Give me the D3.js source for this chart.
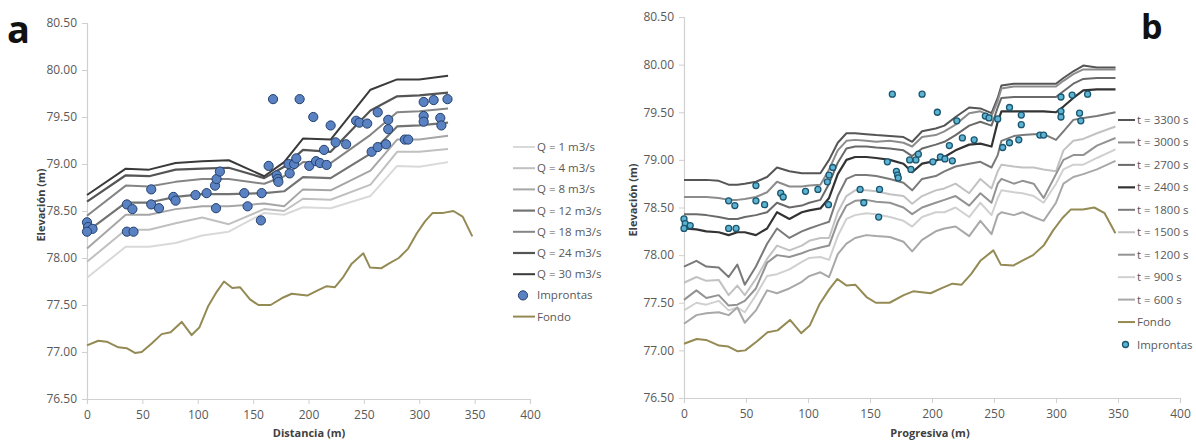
<!DOCTYPE html>
<html>
<head>
<meta charset="utf-8">
<script src="https://cdn.jsdelivr.net/npm/d3@7"></script>
<style>
  body { margin: 0; background: #fff; }
  svg text { font-family: "Open Sans", "DejaVu Sans", sans-serif; }
</style>
</head>
<body>
<svg id="chart" width="1196" height="441"></svg>
<script>
// ---------- shared data ----------
const yTicks = [76.5, 77.0, 77.5, 78.0, 78.5, 79.0, 79.5, 80.0, 80.5];
const xTicks = [0, 50, 100, 150, 200, 250, 300, 350, 400];

// river bed profile
const fondoDist = [0, 10.2, 17.8, 28.3, 35.8, 43.3, 49.4, 58.4, 67.4, 75.5, 85.5, 94.5, 101.4, 109.5, 117.1, 123.7,
  131.2, 138.1, 147.2, 154.7, 165.8, 177.2, 184.8, 198.9, 207.4, 216.4, 223.9, 231.5, 239, 249.5, 255.5, 265.5,
  272.5, 281.5, 290, 297.7, 305.2, 312.1, 321.7, 330.8, 339.2, 347.9];
const fondoElev = [77.07, 77.12, 77.11, 77.05, 77.04, 76.99, 77.00, 77.09, 77.19, 77.21, 77.32, 77.18, 77.26, 77.49, 77.64, 77.75,
  77.68, 77.69, 77.56, 77.50, 77.50, 77.58, 77.62, 77.60, 77.65, 77.70, 77.69, 77.80, 77.94, 78.05, 77.90, 77.89,
  77.94, 78.00, 78.10, 78.26, 78.39, 78.48, 78.48, 78.50, 78.44, 78.23];

// high-water marks surveyed in the field
const impDist = [0, 1, 5, 0, 36, 41, 36, 42, 58, 58, 65, 78, 80, 98, 108, 115.6, 117, 120, 116.5, 142, 145, 157.7, 157,
  164, 168, 171.3, 172.2, 172.8, 182, 183, 187, 189, 192, 200.7, 204.3, 206.8, 210.4, 214, 216.4, 220, 224.5, 234,
  243, 246, 253, 257, 262.5, 262.5, 270, 272, 272, 287, 290, 304, 304, 304, 313, 319, 320, 325.5];
const impElev = [78.38, 78.33, 78.31, 78.28, 78.57, 78.52, 78.28, 78.28, 78.73, 78.57, 78.53, 78.65, 78.61, 78.67, 78.69,
  78.77, 78.84, 78.92, 78.53, 78.69, 78.55, 78.69, 78.40, 78.98, 79.69, 78.88, 78.84, 78.81, 79.00, 78.90, 79.00, 79.06,
  79.69, 78.98, 79.50, 79.03, 79.01, 79.15, 78.99, 79.41, 79.23, 79.21, 79.46, 79.44, 79.43, 79.13, 79.55, 79.18, 79.21,
  79.37, 79.47, 79.26, 79.26, 79.66, 79.51, 79.45, 79.68, 79.49, 79.41, 79.69];

// ---------- panel a: steady profiles for several discharges ----------
const qDist = [0, 35, 56, 80, 104, 128, 160, 178, 195, 220, 256, 280, 300, 326];
const q1  = [77.79, 78.12, 78.12, 78.16, 78.24, 78.28, 78.48, 78.46, 78.54, 78.53, 78.66, 78.98, 78.97, 79.02];
const q4  = [77.96, 78.30, 78.30, 78.37, 78.43, 78.36, 78.52, 78.50, 78.63, 78.62, 78.78, 79.13, 79.13, 79.16];
const q8  = [78.10, 78.46, 78.46, 78.52, 78.55, 78.55, 78.58, 78.55, 78.73, 78.72, 78.93, 79.26, 79.26, 79.30];
const q12 = [78.28, 78.59, 78.59, 78.65, 78.68, 78.68, 78.69, 78.71, 78.86, 78.85, 79.11, 79.40, 79.41, 79.44];
const q18 = [78.45, 78.77, 78.76, 78.81, 78.84, 78.84, 78.79, 78.87, 79.02, 79.01, 79.31, 79.55, 79.56, 79.59];
const q24 = [78.60, 78.88, 78.87, 78.94, 78.95, 78.96, 78.85, 78.97, 79.15, 79.13, 79.57, 79.72, 79.73, 79.76];
const q30 = [78.67, 78.95, 78.94, 79.01, 79.03, 79.04, 78.87, 79.02, 79.27, 79.26, 79.79, 79.90, 79.90, 79.94];
const qLabels = ["Q = 1 m3/s", "Q = 4 m3/s", "Q = 8 m3/s", "Q = 12 m3/s", "Q = 18 m3/s", "Q = 24 m3/s", "Q = 30 m3/s"];

// ---------- panel b: unsteady profiles at several times ----------
const tDist = [0, 10, 18, 28, 36, 43, 49, 58, 67, 75, 85, 95, 101, 110, 117, 124, 131, 138, 147, 155,
  166, 177, 184, 192, 203, 210, 219, 230, 239, 248, 253, 256, 266, 273, 282, 290, 300, 306, 314, 322, 333, 348];
const t3300 = [78.79, 78.79, 78.79, 78.78, 78.74, 78.74, 78.75, 78.77, 78.82, 78.92, 78.88, 78.86, 78.86, 78.86, 79.00, 79.18, 79.28, 79.28, 79.27, 79.26,
  79.25, 79.24, 79.19, 79.30, 79.33, 79.36, 79.45, 79.55, 79.54, 79.49, 79.65, 79.78, 79.80, 79.80, 79.80, 79.80, 79.80, 79.86, 79.93, 79.99, 79.97, 79.97];
const t3000 = [78.61, 78.61, 78.61, 78.60, 78.58, 78.58, 78.59, 78.61, 78.66, 78.77, 78.72, 78.72, 78.73, 78.74, 78.90, 79.10, 79.20, 79.21, 79.20, 79.19,
  79.20, 79.18, 79.14, 79.24, 79.26, 79.30, 79.37, 79.49, 79.51, 79.46, 79.62, 79.75, 79.77, 79.77, 79.77, 79.77, 79.77, 79.83, 79.90, 79.95, 79.95, 79.95];
const t2700 = [78.43, 78.43, 78.42, 78.40, 78.38, 78.38, 78.40, 78.42, 78.45, 78.55, 78.50, 78.52, 78.55, 78.58, 78.75, 78.97, 79.12, 79.14, 79.14, 79.13,
  79.12, 79.10, 79.04, 79.12, 79.16, 79.19, 79.26, 79.36, 79.40, 79.36, 79.55, 79.65, 79.66, 79.66, 79.66, 79.66, 79.66, 79.72, 79.80, 79.85, 79.86, 79.86];
const t2400 = [78.28, 78.27, 78.25, 78.24, 78.21, 78.24, 78.24, 78.21, 78.28, 78.45, 78.38, 78.45, 78.47, 78.49, 78.60, 78.85, 79.00, 79.03, 79.03, 79.02,
  79.00, 78.96, 78.87, 78.96, 78.99, 79.03, 79.10, 79.16, 79.17, 79.14, 79.40, 79.51, 79.51, 79.51, 79.51, 79.51, 79.50, 79.56, 79.65, 79.73, 79.74, 79.74];
const t1800 = [77.88, 77.94, 77.88, 77.87, 77.77, 77.90, 77.69, 77.88, 78.12, 78.28, 78.18, 78.25, 78.28, 78.32, 78.35, 78.62, 78.80, 78.84, 78.84, 78.83,
  78.80, 78.76, 78.68, 78.80, 78.83, 78.88, 78.93, 78.96, 78.98, 78.92, 79.05, 79.20, 79.25, 79.26, 79.27, 79.27, 79.21, 79.30, 79.42, 79.44, 79.46, 79.50];
const t1500 = [77.71, 77.77, 77.73, 77.74, 77.58, 77.68, 77.58, 77.75, 77.96, 78.10, 78.05, 78.10, 78.15, 78.18, 78.18, 78.45, 78.62, 78.68, 78.68, 78.67,
  78.64, 78.62, 78.54, 78.62, 78.68, 78.70, 78.75, 78.65, 78.80, 78.70, 78.88, 78.95, 78.93, 78.92, 78.92, 78.90, 78.88, 79.10, 79.20, 79.22, 79.28, 79.35];
const t1200 = [77.53, 77.63, 77.55, 77.58, 77.47, 77.48, 77.52, 77.65, 77.92, 78.00, 77.98, 78.02, 78.05, 78.08, 78.10, 78.35, 78.52, 78.57, 78.58, 78.56,
  78.55, 78.50, 78.43, 78.50, 78.55, 78.58, 78.62, 78.52, 78.65, 78.55, 78.75, 78.80, 78.75, 78.78, 78.75, 78.60, 78.85, 79.00, 79.05, 79.05, 79.15, 79.23];
const t900 = [77.42, 77.50, 77.48, 77.52, 77.42, 77.45, 77.40, 77.58, 77.78, 77.80, 77.85, 77.93, 77.97, 77.98, 77.95, 78.20, 78.38, 78.42, 78.44, 78.43,
  78.40, 78.36, 78.30, 78.40, 78.45, 78.45, 78.50, 78.40, 78.55, 78.42, 78.60, 78.68, 78.66, 78.65, 78.62, 78.55, 78.75, 78.90, 78.95, 78.95, 79.02, 79.11];
const t600 = [77.28, 77.37, 77.39, 77.40, 77.37, 77.45, 77.29, 77.42, 77.63, 77.60, 77.65, 77.72, 77.78, 77.82, 77.77, 78.01, 78.12, 78.18, 78.21, 78.20,
  78.19, 78.14, 78.04, 78.16, 78.25, 78.28, 78.30, 78.20, 78.36, 78.22, 78.42, 78.45, 78.42, 78.45, 78.40, 78.36, 78.55, 78.75, 78.82, 78.85, 78.90, 78.99];
const tLabels = ["t = 3300 s", "t = 3000 s", "t = 2700 s", "t = 2400 s", "t = 1800 s", "t = 1500 s", "t = 1200 s", "t = 900 s", "t = 600 s"];

// ---------- drawing ----------
const svg = d3.select("#chart");
svg.append("rect").attr("width", 1196).attr("height", 441).attr("fill", "#fff");

const AXIS = "#d0d0d0";
const TICKTXT = "#595959";
const FONDO = "#948a54";

function drawPanel(p) {
  const g = svg.append("g");
  const x = d3.scaleLinear().domain([0, 400]).range(p.xr);
  const y = d3.scaleLinear().domain([76.5, 80.5]).range(p.yr);

  const ya = g.append("g").attr("transform", `translate(${p.xr[0]},0)`)
    .call(d3.axisLeft(y).tickValues(yTicks).tickSize(5).tickPadding(5).tickFormat(d3.format(".2f")));
  const xa = g.append("g").attr("transform", `translate(0,${p.yr[0]})`)
    .call(d3.axisBottom(x).tickValues(xTicks).tickSize(5).tickPadding(6).tickFormat(d3.format("d")));
  [ya, xa].forEach(a => {
    a.select(".domain").attr("stroke", AXIS).attr("stroke-width", 1.2);
    a.selectAll(".tick line").attr("stroke", AXIS);
    a.selectAll(".tick text").attr("fill", TICKTXT).style("font-size", "12px");
  });

  // axis titles
  g.append("text").attr("transform", `translate(${p.ytx},${p.yty}) rotate(-90)`)
    .attr("text-anchor", "middle").attr("dy", "0.35em")
    .style("font-size", "11px").style("font-weight", "bold").attr("fill", "#404040").text("Elevación (m)");
  g.append("text").attr("x", p.xtx).attr("y", p.xty).attr("text-anchor", "middle").attr("dy", "0.35em")
    .style("font-size", "11px").style("font-weight", "bold").attr("fill", "#404040").text(p.xTitle);

  const line = d3.line().x(d => x(d[0])).y(d => y(d[1]));

  // water-surface profiles
  p.series.forEach(s => {
    g.append("path").datum(d3.zip(s.dist, s.elev)).attr("d", line)
      .attr("fill", "none").attr("stroke", s.color).attr("stroke-width", s.w)
      .attr("stroke-linejoin", "round");
  });

  // bed
  g.append("path").datum(d3.zip(fondoDist, fondoElev)).attr("d", line)
    .attr("fill", "none").attr("stroke", FONDO).attr("stroke-width", 2).attr("stroke-linejoin", "round");

  // high-water marks
  g.selectAll("circle.imp").data(d3.zip(impDist, impElev)).join("circle").attr("class", "imp")
    .attr("cx", d => x(d[0])).attr("cy", d => y(d[1])).attr("r", p.mr)
    .attr("fill", p.mfill).attr("stroke", p.mstroke).attr("stroke-width", p.msw);

  // legend
  const lg = g.append("g");
  p.legend.forEach((e, i) => {
    const yy = p.lgY + i * p.lgStep;
    if (e.type === "line") {
      lg.append("line").attr("x1", p.lgX).attr("x2", p.lgX + p.lgW).attr("y1", yy).attr("y2", yy)
        .attr("stroke", e.color).attr("stroke-width", e.w);
    } else {
      lg.append("circle").attr("cx", p.lgX + p.lgW / 2 - 1).attr("cy", yy).attr("r", p.mr)
        .attr("fill", p.mfill).attr("stroke", p.mstroke).attr("stroke-width", p.msw);
    }
    lg.append("text").attr("x", p.lgX + p.lgW + 2).attr("y", yy).attr("dy", "0.35em")
      .style("font-size", "11.5px").attr("fill", TICKTXT).text(e.label);
  });

  // panel letter
  g.append("text").attr("x", p.letterX).attr("y", p.letterY)
    .style("font-size", p.letterSize).style("font-weight", "bold").attr("fill", "#111").text(p.letter);
}

// panel a
const qSeries = [
  { dist: qDist, elev: q1,  color: "#d9d9d9", w: 2 },
  { dist: qDist, elev: q4,  color: "#c0c0c0", w: 2 },
  { dist: qDist, elev: q8,  color: "#a6a6a6", w: 2 },
  { dist: qDist, elev: q12, color: "#737373", w: 2.2 },
  { dist: qDist, elev: q18, color: "#858585", w: 2 },
  { dist: qDist, elev: q24, color: "#555555", w: 2.2 },
  { dist: qDist, elev: q30, color: "#3a3a3a", w: 2 }
];
drawPanel({
  xr: [87, 530], yr: [399, 23],
  xTitle: "Distancia (m)", xtx: 309, xty: 433, ytx: 41, yty: 205,
  series: qSeries,
  mr: 4.6, mfill: "#5a82c2", mstroke: "#23416e", msw: 1,
  legend: qSeries.map((s, i) => ({ type: "line", color: s.color, w: s.w, label: qLabels[i] }))
    .concat([{ type: "dot", label: "Improntas" }, { type: "line", color: FONDO, w: 2, label: "Fondo" }]),
  lgX: 513, lgW: 22, lgY: 147, lgStep: 21.2,
  letter: "a", letterX: 7, letterY: 43, letterSize: "38px"
});

// panel b
const tSeries = [
  { dist: tDist, elev: t3300, color: "#555555", w: 2 },
  { dist: tDist, elev: t3000, color: "#8c8c8c", w: 2 },
  { dist: tDist, elev: t2700, color: "#6a6a6a", w: 2 },
  { dist: tDist, elev: t2400, color: "#333333", w: 2.2 },
  { dist: tDist, elev: t1800, color: "#7a7a7a", w: 2 },
  { dist: tDist, elev: t1500, color: "#c2c2c2", w: 2 },
  { dist: tDist, elev: t1200, color: "#939393", w: 2 },
  { dist: tDist, elev: t900,  color: "#d0d0d0", w: 2 },
  { dist: tDist, elev: t600,  color: "#a8a8a8", w: 2 }
];
drawPanel({
  xr: [684, 1180], yr: [398, 17],
  xTitle: "Progresiva (m)", xtx: 930, xty: 433, ytx: 633, yty: 200,
  series: tSeries,
  mr: 3, mfill: "#5db4d2", mstroke: "#1b5670", msw: 1.3,
  legend: tSeries.map((s, i) => ({ type: "line", color: s.color, w: s.w, label: tLabels[i] }))
    .concat([{ type: "line", color: FONDO, w: 2, label: "Fondo" }, { type: "dot", label: "Improntas" }]),
  lgX: 1118, lgW: 17, lgY: 120, lgStep: 22.45,
  letter: "b", letterX: 1141, letterY: 39, letterSize: "34px"
});
</script>
</body>
</html>
